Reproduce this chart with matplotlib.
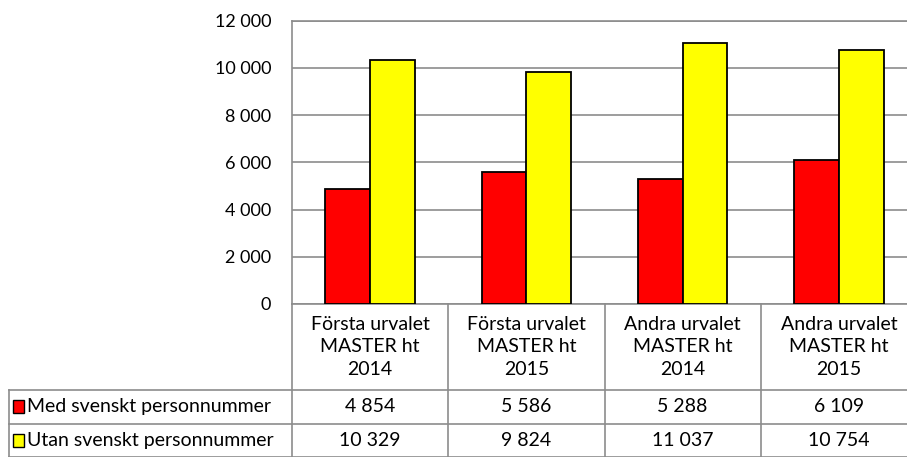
import numpy as np
import matplotlib
matplotlib.use("Agg")
import matplotlib.pyplot as plt
from matplotlib.transforms import blended_transform_factory
from matplotlib.patches import Rectangle

categories = ["Första urvalet\nMASTER ht\n2014", "Första urvalet\nMASTER ht\n2015",
              "Andra urvalet\nMASTER ht\n2014", "Andra urvalet\nMASTER ht\n2015"]
med = [4854, 5586, 5288, 6109]
utan = [10329, 9824, 11037, 10754]
med_labels = ["4 854", "5 586", "5 288", "6 109"]
utan_labels = ["10 329", "9 824", "11 037", "10 754"]
series_names = ["Med svenskt personnummer", "Utan svenskt personnummer"]
yticks = [0, 2000, 4000, 6000, 8000, 10000, 12000]

RED = "#FF0000"
YEL = "#FFFF00"
GRID = "#8C8C8C"

plt.rcParams['font.family'] = ['Lato', 'DejaVu Sans']

W, H = 907, 457
fig = plt.figure(figsize=(W / 100, H / 100), dpi=100)

# plot area in pixels (right edge runs past the picture, as in the reference)
left, right, top, bottom = 292, 917, 20.7, 304
ax = fig.add_axes([left / W, 1 - bottom / H, (right - left) / W, (bottom - top) / H])

x = np.arange(len(categories))
bw = 1 / 3.5
ax.bar(x - bw / 2, med, bw, color=RED, edgecolor="black", linewidth=1.3, zorder=3)
ax.bar(x + bw / 2, utan, bw, color=YEL, edgecolor="black", linewidth=1.3, zorder=3)

ax.set_xlim(-0.5, 3.5)
ax.set_ylim(0, 12000)
ax.set_yticks(yticks)
ax.set_yticklabels([f"{v:,}".replace(",", " ") for v in yticks], fontsize=13)
ax.tick_params(axis="y", length=0, pad=15)
ax.set_xticks([])
ax.grid(axis="y", color=GRID, linewidth=1.2, zorder=0)
for s in ax.spines.values():
    s.set_color(GRID)
    s.set_linewidth(1.2)

# data table below the plot area
def fy(py):
    return 1 - py / H

tr = blended_transform_factory(ax.transData, fig.transFigure)
row1, row2, tbot = 389.5, 424, 456.5
lc = dict(color=GRID, linewidth=1.2)

for b in [0.5, 1.5, 2.5]:
    fig.add_artist(plt.Line2D([b, b], [fy(bottom), fy(tbot)], transform=tr, **lc))
fig.add_artist(plt.Line2D([left / W, left / W], [fy(bottom), fy(tbot)], transform=fig.transFigure, **lc))
fig.add_artist(plt.Line2D([9 / W, 9 / W], [fy(row1), fy(tbot)], transform=fig.transFigure, **lc))
for py in [row1, row2, tbot]:
    fig.add_artist(plt.Line2D([9 / W, 1], [fy(py), fy(py)], transform=fig.transFigure, **lc))

for i, cat in enumerate(categories):
    fig.text(i, fy(347), cat, transform=tr, ha="center", va="center",
             fontsize=14, linespacing=1.36)
    fig.text(i, fy(406.5), med_labels[i], transform=tr, ha="center", va="center", fontsize=14)
    fig.text(i, fy(440.5), utan_labels[i], transform=tr, ha="center", va="center", fontsize=14)

for py, name, col in [(406.5, series_names[0], RED), (440.5, series_names[1], YEL)]:
    fig.add_artist(Rectangle((13 / W, fy(py + 6.5)), 11 / W, 13 / H, transform=fig.transFigure,
                             facecolor=col, edgecolor="black", linewidth=1.0))
    fig.text(27 / W, fy(py), name, ha="left", va="center", fontsize=14)

fig.savefig("out.png", dpi=100)
